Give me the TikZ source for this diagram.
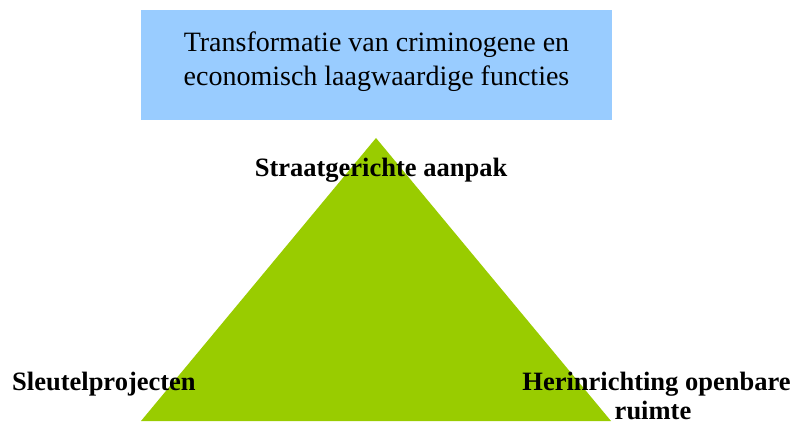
\documentclass[tikz,border=0pt]{standalone}
\usepackage{fontspec}
\setmainfont{Liberation Serif}
\definecolor{boxblue}{HTML}{99CCFF}
\definecolor{trigreen}{HTML}{99CC00}
\tikzset{
  titlebox/.style={fill=boxblue, draw=none, minimum width=471pt, minimum height=110pt, inner sep=0pt},
  titletxt/.style={font=\fontsize{28}{34}\selectfont, align=center, inner sep=0pt},
  lbl/.style={font=\fontsize{26.5}{32}\selectfont\bfseries, inner sep=0pt, align=center}
}
\begin{document}
\begin{tikzpicture}[x=1pt,y=-1pt]
\useasboundingbox (0,0) rectangle (795,425);
\node[titlebox] (title) at (376.5,65) {};
\node[titletxt] (titletext) at (376.5,62) {Transformatie van criminogene en\\economisch laagwaardige functies};
\coordinate (apex) at (376,138);
\coordinate (bl) at (141,421);
\coordinate (br) at (611,421);
\fill[trigreen] (apex) -- (bl) -- (br) -- cycle;
\node[lbl] (top) at (381,170) {Straatgerichte aanpak};
\node[lbl, anchor=base west] (left) at (12,390) {Sleutelprojecten};
\node[lbl, anchor=base] (right) at (656.5,390) {Herinrichting openbare};
\node[lbl, anchor=base] (right2) at (653,419) {ruimte};
\end{tikzpicture}
\end{document}
